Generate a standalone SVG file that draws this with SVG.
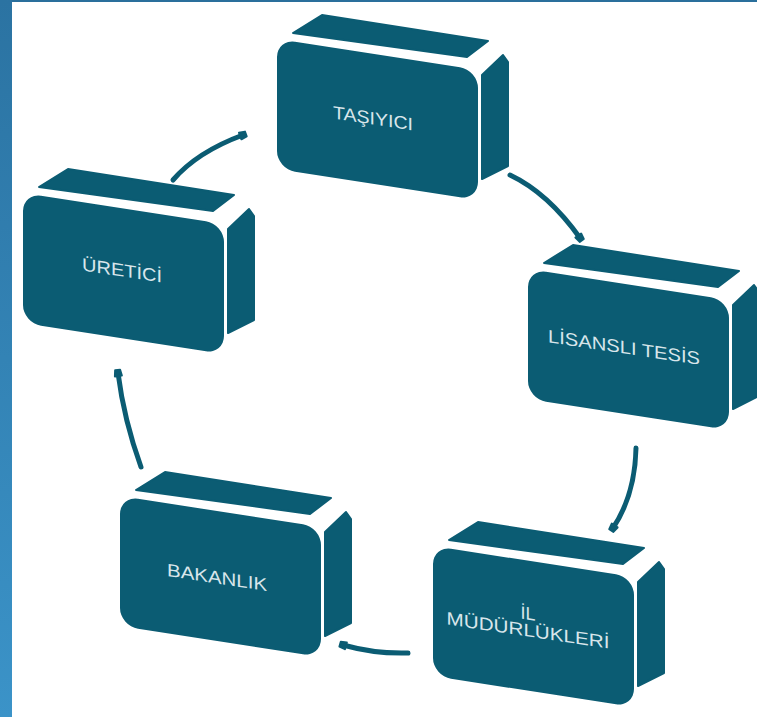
<svg xmlns="http://www.w3.org/2000/svg" xmlns:xlink="http://www.w3.org/1999/xlink" width="757" height="717" viewBox="0 0 757 717">
<style>
.box{fill:#0b5c73}
.top{fill:#0b5c73;stroke:#0b5c73;stroke-width:2;stroke-linejoin:round}
.lbl{font-family:"Liberation Sans",Arial,sans-serif;font-size:18px;fill:#d9e6eb;text-anchor:middle}
.conn{fill:none;stroke:#0b5c73;stroke-width:5;stroke-linecap:round}
</style>
<defs>
<linearGradient id="edge" x1="0" y1="0" x2="0" y2="1">
<stop offset="0" stop-color="#2b73a2"/>
<stop offset="1" stop-color="#3b93c8"/>
</linearGradient>
<marker id="head" viewBox="-6 -6 12 12" markerWidth="12" markerHeight="12" markerUnits="userSpaceOnUse" refX="0" refY="0" orient="auto">
<path d="M-3,-3.5 L3,-2.5 L3,2.5 L-3,3.5 Z" fill="#0b5c73" stroke="#0b5c73" stroke-width="2" stroke-linejoin="round"/>
</marker>
<g id="boxshape">
<polygon class="top" points="293,33 322,15 488,41 467,57"/>
<rect class="box" x="0" y="0" width="201" height="130" rx="18" transform="translate(277,39) skewY(8.8)"/>
<polygon class="top" points="482,75 503,55 508,62 508,166 482,179"/>
</g>
</defs>
<rect x="0" y="0" width="757" height="717" fill="#ffffff"/>
<rect x="0" y="0" width="757" height="2" fill="#2a6f9c"/>
<rect x="0" y="0" width="12" height="717" fill="url(#edge)"/>
<g id="connectors">
<path class="conn" d="M173,180 Q197,152 243,135" marker-end="url(#head)"/>
<path class="conn" d="M510,175 Q548,193 580,238" marker-end="url(#head)"/>
<path class="conn" d="M636,448 Q635,495 613,528" marker-end="url(#head)"/>
<path class="conn" d="M408,653 Q375,654 343,645" marker-end="url(#head)"/>
<path class="conn" d="M141,467 Q124,420 118,373" marker-end="url(#head)"/>
</g>
<g id="tasiyici">
<use xlink:href="#boxshape"/>
<text class="lbl" transform="translate(373,118) skewY(8.5)" y="6.5" textLength="80" lengthAdjust="spacingAndGlyphs">TAŞIYICI</text>
</g>
<g id="lisansli-tesis">
<use xlink:href="#boxshape" transform="translate(251,230)"/>
<text class="lbl" transform="translate(624,347) skewY(8.5)" y="6.5" textLength="152" lengthAdjust="spacingAndGlyphs">LİSANSLI TESİS</text>
</g>
<g id="il-mudurlukleri">
<use xlink:href="#boxshape" transform="translate(156,507)"/>
<text class="lbl" transform="translate(528,622) skewY(8.5)" y="-2.5">İL</text>
<text class="lbl" transform="translate(528,622) skewY(8.5)" y="14.5" textLength="163" lengthAdjust="spacingAndGlyphs">MÜDÜRLÜKLERİ</text>
</g>
<g id="bakanlik">
<use xlink:href="#boxshape" transform="translate(-157,457)"/>
<text class="lbl" transform="translate(217,577) skewY(8.5)" y="6.5" textLength="100" lengthAdjust="spacingAndGlyphs">BAKANLIK</text>
</g>
<g id="uretici">
<use xlink:href="#boxshape" transform="translate(-254,154)"/>
<text class="lbl" transform="translate(122,270) skewY(8.5)" y="6.5" textLength="80" lengthAdjust="spacingAndGlyphs">ÜRETİCİ</text>
</g>
</svg>
